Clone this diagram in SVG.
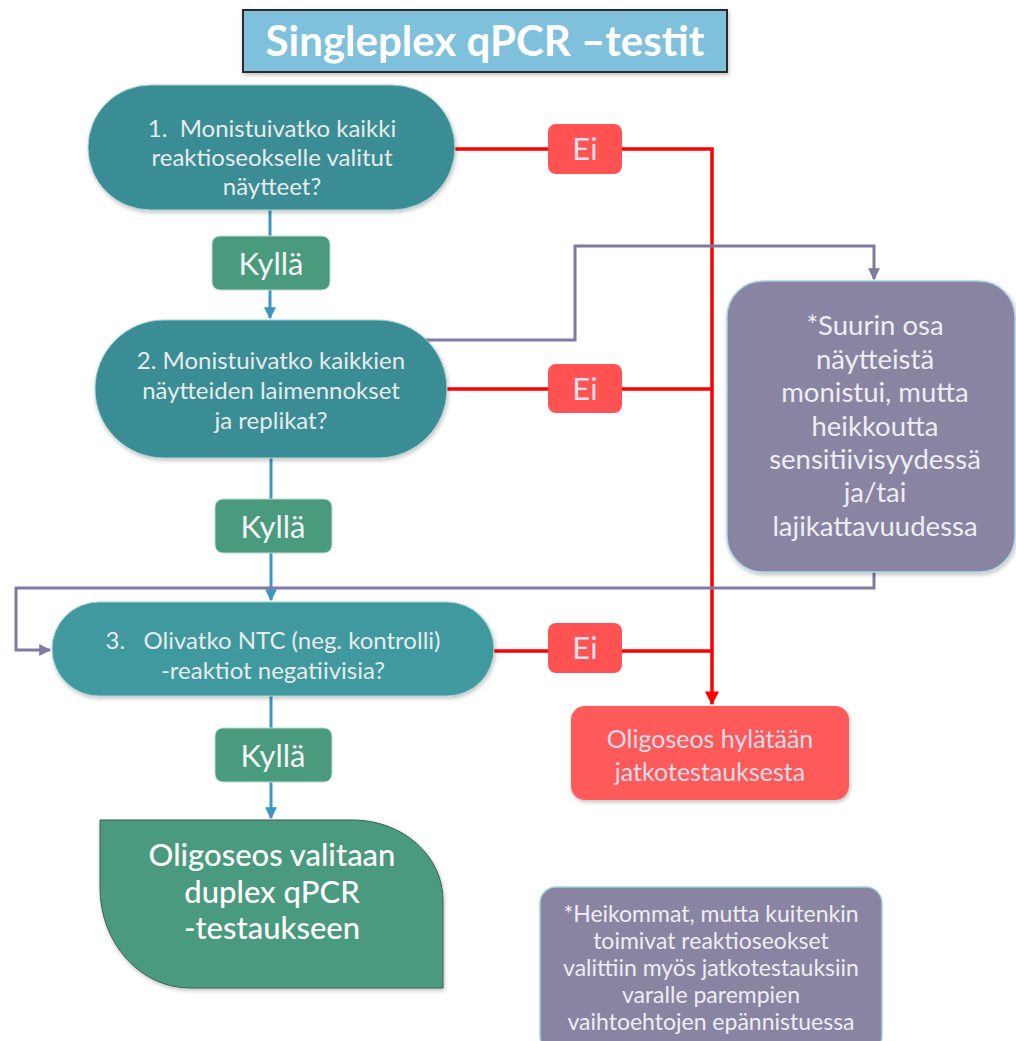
<svg xmlns="http://www.w3.org/2000/svg" width="1016" height="1041" viewBox="0 0 1016 1041">
<style>
text{font-family:Lato,"Open Sans","Liberation Sans",sans-serif;text-anchor:middle}
.q{fill:#3b8d95;stroke:#a9d4d2;stroke-width:1}
.qt{fill:#e6ecec;font-size:24px}
.ky{fill:#4a9a7e;stroke:#b9ddd0;stroke-width:1}
.kt{fill:#f2f6f4;font-size:31px}
.ei{fill:#ff5252}
.et{fill:#e4e2ea;font-size:31px}
.pu{fill:#8984a2;stroke:#a8d6e4;stroke-width:1.5}
.pt{fill:#eeedf2;font-size:27.5px}
.nt{fill:#eeedf2;font-size:23px}
.blue{stroke:#3a96c3;stroke-width:3;fill:none}
.red{stroke:#ff0000;stroke-width:3.5;fill:none}
.pl{stroke:#7f7a9f;stroke-width:3;fill:none}
</style>
<defs>
<marker id="ab" viewBox="0 0 10 10" refX="9" refY="5" markerWidth="4" markerHeight="4" orient="auto" markerUnits="strokeWidth"><path d="M0,0L10,5L0,10z" fill="#3a96c3"/></marker>
<marker id="ar" viewBox="0 0 10 10" refX="9" refY="5" markerWidth="4" markerHeight="4" orient="auto" markerUnits="strokeWidth"><path d="M0,0L10,5L0,10z" fill="#ff0000"/></marker>
<marker id="ap" viewBox="0 0 10 10" refX="9" refY="5" markerWidth="4" markerHeight="4" orient="auto" markerUnits="strokeWidth"><path d="M0,0L10,5L0,10z" fill="#7f7a9f"/></marker>
<filter id="sh" x="-10%" y="-10%" width="120%" height="130%"><feDropShadow dx="1" dy="2" stdDeviation="2" flood-color="#000" flood-opacity="0.25"/></filter>
</defs>
<rect width="1016" height="1041" fill="#fff"/>

<g id="connectors">
<path class="blue" d="M270,210V236"/>
<path class="blue" d="M270,290V318" marker-end="url(#ab)"/>
<path class="blue" d="M271,458V499"/>
<path class="blue" d="M271,553V600" marker-end="url(#ab)"/>
<path class="blue" d="M271,696V728"/>
<path class="blue" d="M271,782V818" marker-end="url(#ab)"/>
<path class="red" d="M455,149H548M622,149H712V704" marker-end="url(#ar)"/>
<path class="red" d="M447,389H548M622,389H712"/>
<path class="red" d="M494,651H548M622,651H712"/>
<path class="pl" d="M425,340H575V246H874V279" marker-end="url(#ap)"/>
<path class="pl" d="M874,572V588H16V650H50" marker-end="url(#ap)"/>
</g>

<g id="title">
<rect x="243" y="10" width="484" height="62" fill="#7fc0dc" stroke="#2b2b2b" stroke-width="2" filter="url(#sh)"/>
<text x="485" y="56" fill="#ffffff" font-size="42" font-weight="bold">Singleplex qPCR –testit</text>
</g>

<g id="q1">
<rect class="q" x="88" y="85" width="367" height="125" rx="62.5" filter="url(#sh)"/>
<text class="qt" x="272" y="137" xml:space="preserve">1.  Monistuivatko kaikki</text>
<text class="qt" x="272" y="166">reaktioseokselle valitut</text>
<text class="qt" x="272" y="195">näytteet?</text>
</g>

<g id="q2">
<rect class="q" x="95" y="320" width="352" height="138" rx="69" filter="url(#sh)"/>
<text class="qt" x="271" y="369">2. Monistuivatko kaikkien</text>
<text class="qt" x="271" y="399">näytteiden laimennokset</text>
<text class="qt" x="271" y="429">ja replikat?</text>
</g>

<g id="q3">
<rect class="q" x="52" y="602" width="442" height="94" rx="47" style="fill:#41999f" filter="url(#sh)"/>
<text class="qt" x="273" y="649" xml:space="preserve">3.   Olivatko NTC (neg. kontrolli)</text>
<text class="qt" x="273" y="679">-reaktiot negatiivisia?</text>
</g>

<g id="kylla1">
<rect class="ky" x="212" y="236" width="118" height="54" rx="8"/>
<text class="kt" x="271" y="275">Kyllä</text>
</g>
<g id="kylla2">
<rect class="ky" x="215" y="499" width="117" height="54" rx="8"/>
<text class="kt" x="273" y="538">Kyllä</text>
</g>
<g id="kylla3">
<rect class="ky" x="215" y="728" width="117" height="54" rx="8"/>
<text class="kt" x="273" y="767">Kyllä</text>
</g>

<g id="ei1">
<rect class="ei" x="548" y="124" width="74" height="50" rx="8"/>
<text class="et" x="585" y="160">Ei</text>
</g>
<g id="ei2">
<rect class="ei" x="548" y="364" width="74" height="49" rx="8"/>
<text class="et" x="585" y="400">Ei</text>
</g>
<g id="ei3">
<rect class="ei" x="548" y="623" width="74" height="50" rx="8"/>
<text class="et" x="585" y="659">Ei</text>
</g>

<g id="reject">
<rect x="571" y="706" width="278" height="94" rx="14" fill="#ff5a5a" filter="url(#sh)"/>
<text x="710" y="748" fill="#dcdce6" font-size="25">Oligoseos hylätään</text>
<text x="710" y="781" fill="#dcdce6" font-size="25">jatkotestauksesta</text>
</g>

<g id="weak">
<rect class="pu" x="727" y="281" width="288" height="291" rx="36" filter="url(#sh)"/>
<text class="pt" x="875" y="335">*Suurin osa</text>
<text class="pt" x="875" y="369">näytteistä</text>
<text class="pt" x="875" y="402">monistui, mutta</text>
<text class="pt" x="875" y="436">heikkoutta</text>
<text class="pt" x="875" y="469">sensitiivisyydessä</text>
<text class="pt" x="875" y="502">ja/tai</text>
<text class="pt" x="875" y="536">lajikattavuudessa</text>
</g>

<g id="selected">
<path d="M100,820H353A90,80 0 0 1 443,900V988H190A90,100 0 0 1 100,888Z" fill="#4a9a7e" stroke="#3b5f52" stroke-width="1" filter="url(#sh)"/>
<text x="272" y="866" fill="#ffffff" font-size="31" font-weight="500">Oligoseos valitaan</text>
<text x="272" y="903" fill="#ffffff" font-size="31" font-weight="500">duplex qPCR</text>
<text x="272" y="939" fill="#ffffff" font-size="31" font-weight="500">-testaukseen</text>
</g>

<g id="note">
<rect class="pu" x="540" y="887" width="342" height="165" rx="16" style="stroke:#9fd6cf"/>
<text class="nt" x="711" y="922">*Heikommat, mutta kuitenkin</text>
<text class="nt" x="711" y="949">toimivat reaktioseokset</text>
<text class="nt" x="711" y="976">valittiin myös jatkotestauksiin</text>
<text class="nt" x="711" y="1003">varalle parempien</text>
<text class="nt" x="711" y="1030">vaihtoehtojen epännistuessa</text>
</g>
</svg>
